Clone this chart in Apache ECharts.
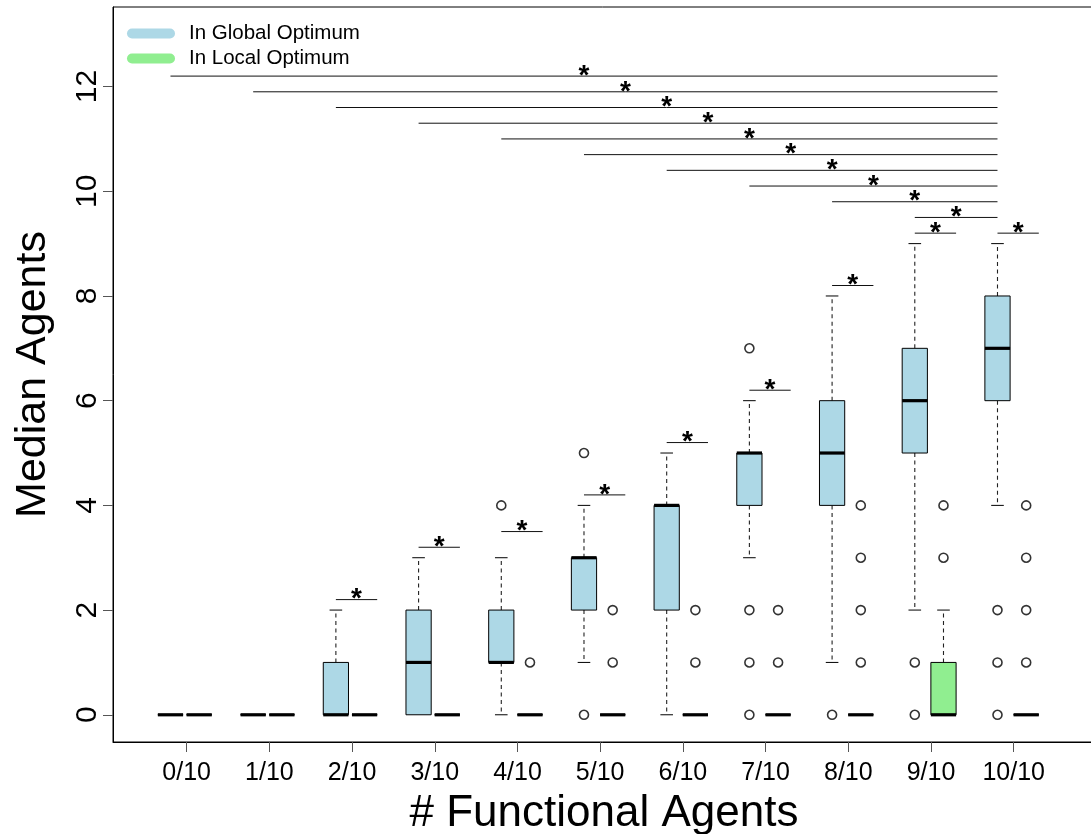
<!DOCTYPE html>
<html>
<head>
<meta charset="utf-8">
<script src="https://cdn.jsdelivr.net/npm/echarts@6/dist/echarts.min.js"></script>
<style>
  html, body { margin: 0; padding: 0; background: #fff; }
  #chart { width: 1091px; height: 834px; }
</style>
</head>
<body>
<div id="chart"></div>
<script>
// Group labels along the x axis
const categories = ['0/10', '1/10', '2/10', '3/10', '4/10', '5/10', '6/10', '7/10', '8/10', '9/10', '10/10'];

// Box summaries per group: [lower whisker, Q1, median, Q3, upper whisker]
const globalStats = [
  [0, 0, 0, 0, 0],
  [0, 0, 0, 0, 0],
  [0, 0, 0, 1, 2],
  [0, 0, 1, 2, 3],
  [0, 1, 1, 2, 3],
  [1, 2, 3, 3, 4],
  [0, 2, 4, 4, 5],
  [3, 4, 5, 5, 6],
  [1, 4, 5, 6, 8],
  [2, 5, 6, 7, 9],
  [4, 6, 7, 8, 9]
];
const localStats = [
  [0, 0, 0, 0, 0],
  [0, 0, 0, 0, 0],
  [0, 0, 0, 0, 0],
  [0, 0, 0, 0, 0],
  [0, 0, 0, 0, 0],
  [0, 0, 0, 0, 0],
  [0, 0, 0, 0, 0],
  [0, 0, 0, 0, 0],
  [0, 0, 0, 0, 0],
  [0, 0, 0, 1, 2],
  [0, 0, 0, 0, 0]
];

// Outlying values per group
const globalOutliers = [[], [], [], [], [4], [0, 5], [], [0, 1, 2, 7], [0], [0, 1], [0, 1, 2]];
const localOutliers = [[], [], [], [], [1], [1, 2], [1, 2], [1, 2], [1, 2, 3, 4], [3, 4], [1, 2, 3, 4]];

// Significance bars: global vs local within each group (null = none)
const pairBarHeights = [null, null, 2.2, 3.2, 3.5, 4.2, 5.2, 6.2, 8.2, 9.2, 9.2];
// Significance bars: each group's global box vs the 10/10 global box
const trendBarHeights = [12.2, 11.9, 11.6, 11.3, 11.0, 10.7, 10.4, 10.1, 9.8, 9.5];

const yTicks = [0, 2, 4, 6, 8, 10, 12];

// Layout of boxes within a group (x-axis units, one unit per group)
const GLOBAL_SHIFT = -0.196;
const LOCAL_SHIFT = 0.151;
const BOX_WIDTH = 0.305;

const FONT = '"Liberation Sans", Arial, Helvetica, sans-serif';
const BLUE = '#ADD8E6';
const GREEN = '#90EE90';

function boxRenderer(shift, fill) {
  return function (params, api) {
    const g = api.value(0) + shift;
    const lo = api.value(1), q1 = api.value(2), med = api.value(3), q3 = api.value(4), hi = api.value(5);
    const c = api.coord([g, med]);
    const half = api.size([BOX_WIDTH, 0])[0] / 2;
    const yLo = api.coord([g, lo])[1];
    const yQ1 = api.coord([g, q1])[1];
    const yMed = c[1];
    const yQ3 = api.coord([g, q3])[1];
    const yHi = api.coord([g, hi])[1];
    const x = c[0];
    const children = [];
    const dash = { stroke: '#222', lineWidth: 1.1, lineDash: [4, 3.5] };
    const cap = { stroke: '#000', lineWidth: 1 };
    if (hi > q3) {
      children.push({ type: 'line', shape: { x1: x, y1: yQ3, x2: x, y2: yHi }, style: dash });
      children.push({ type: 'line', shape: { x1: x - half / 2, y1: yHi, x2: x + half / 2, y2: yHi }, style: cap });
    }
    if (lo < q1) {
      children.push({ type: 'line', shape: { x1: x, y1: yQ1, x2: x, y2: yLo }, style: dash });
      children.push({ type: 'line', shape: { x1: x - half / 2, y1: yLo, x2: x + half / 2, y2: yLo }, style: cap });
    }
    children.push({
      type: 'rect',
      shape: { x: x - half, y: yQ3, width: half * 2, height: yQ1 - yQ3 },
      style: { fill: fill, stroke: '#000', lineWidth: 1 }
    });
    children.push({
      type: 'line',
      shape: { x1: x - half, y1: yMed, x2: x + half, y2: yMed },
      style: { stroke: '#000', lineWidth: 3.2 }
    });
    return { type: 'group', children: children };
  };
}

function sigRenderer(params, api) {
  const x1 = api.value(0), x2 = api.value(1), y = api.value(2);
  const p1 = api.coord([x1, y]);
  const p2 = api.coord([x2, y]);
  return {
    type: 'group',
    children: [
      { type: 'line', shape: { x1: p1[0], y1: p1[1], x2: p2[0], y2: p2[1] }, style: { stroke: '#111', lineWidth: 1 } },
      {
        type: 'text',
        x: (p1[0] + p2[0]) / 2, y: p1[1],
        style: { text: '*', fontSize: 28, fontWeight: 'bold', fontFamily: FONT, fill: '#000', align: 'center', verticalAlign: 'middle' }
      }
    ]
  };
}

const boxData = (stats) => stats.map((s, i) => [i].concat(s));
const outlierData = (lists, shift) => {
  const out = [];
  lists.forEach((vals, i) => vals.forEach(v => out.push([i + shift, v])));
  return out;
};

const sigData = [];
pairBarHeights.forEach((h, i) => {
  if (h !== null) sigData.push([i + GLOBAL_SHIFT, i + LOCAL_SHIFT + BOX_WIDTH / 2, h]);
});
trendBarHeights.forEach((h, k) => {
  sigData.push([k + GLOBAL_SHIFT, 10 + GLOBAL_SHIFT, h]);
});

const chart = echarts.init(document.getElementById('chart'), null, { renderer: 'canvas' });

const option = {
  animation: false,
  backgroundColor: '#fff',
  textStyle: { fontFamily: FONT },
  grid: {
    left: 113, top: 7, width: 982, height: 735,
    outerBoundsMode: 'none', containLabel: false,
    show: true, borderColor: '#000', borderWidth: 1, backgroundColor: 'transparent'
  },
  legend: {
    orient: 'vertical',
    left: 127,
    top: 23,
    padding: 0,
    itemWidth: 48,
    itemHeight: 11,
    itemGap: 4,
    icon: 'path://M5,0 L43,0 A5,5 0 0 1 43,10 L5,10 A5,5 0 0 1 5,0 Z',
    textStyle: { fontSize: 20.5, color: '#000', fontFamily: FONT, lineHeight: 21, padding: [0, 0, 0, 9] },
    data: ['In Global Optimum', 'In Local Optimum']
  },
  xAxis: {
    type: 'value',
    min: -0.891,
    max: 10.983,
    axisLine: { show: true, onZero: false, lineStyle: { color: '#000', width: 1 } },
    axisTick: { show: true, customValues: categories.map((c, i) => i), length: 10, lineStyle: { color: '#555', width: 1 } },
    axisLabel: {
      customValues: categories.map((c, i) => i),
      formatter: (v) => categories[Math.round(v)],
      fontSize: 25, color: '#000', fontFamily: FONT, margin: 19
    },
    splitLine: { show: false },
    name: '# Functional Agents',
    nameLocation: 'middle',
    nameGap: 50,
    nameTextStyle: { fontSize: 44, color: '#000', fontFamily: FONT }
  },
  yAxis: {
    type: 'value',
    min: -0.52,
    max: 13.52,
    axisLine: { show: true, onZero: false, lineStyle: { color: '#000', width: 1 } },
    axisTick: { show: true, customValues: yTicks, length: 10, lineStyle: { color: '#555', width: 1 } },
    axisLabel: { customValues: yTicks, rotate: 90, fontSize: 30, color: '#000', fontFamily: FONT, margin: 10 },
    splitLine: { show: false },
    name: 'Median Agents',
    nameLocation: 'middle',
    nameGap: 58,
    nameTextStyle: { fontSize: 43, color: '#000', fontFamily: FONT }
  },
  series: [
    {
      name: 'In Global Optimum',
      type: 'custom',
      renderItem: boxRenderer(GLOBAL_SHIFT, BLUE),
      itemStyle: { color: BLUE },
      encode: { x: 0, y: [1, 2, 3, 4, 5] },
      data: boxData(globalStats),
      z: 3
    },
    {
      name: 'In Local Optimum',
      type: 'custom',
      renderItem: (params, api) => {
        const fill = api.value(4) > 0 ? GREEN : BLUE;
        return boxRenderer(LOCAL_SHIFT, fill)(params, api);
      },
      itemStyle: { color: GREEN },
      encode: { x: 0, y: [1, 2, 3, 4, 5] },
      data: boxData(localStats),
      z: 3
    },
    {
      name: 'global-outliers',
      type: 'scatter',
      symbol: 'circle',
      symbolSize: 9,
      itemStyle: { color: '#fff', borderColor: '#000', borderWidth: 1.6 },
      data: outlierData(globalOutliers, GLOBAL_SHIFT),
      z: 4
    },
    {
      name: 'local-outliers',
      type: 'scatter',
      symbol: 'circle',
      symbolSize: 9,
      itemStyle: { color: '#fff', borderColor: '#000', borderWidth: 1.6 },
      data: outlierData(localOutliers, LOCAL_SHIFT),
      z: 4
    },
    {
      name: 'significance',
      type: 'custom',
      renderItem: sigRenderer,
      encode: { x: [0, 1], y: 2 },
      data: sigData,
      silent: true,
      z: 2
    }
  ]
};

chart.setOption(option);
</script>
</body>
</html>
